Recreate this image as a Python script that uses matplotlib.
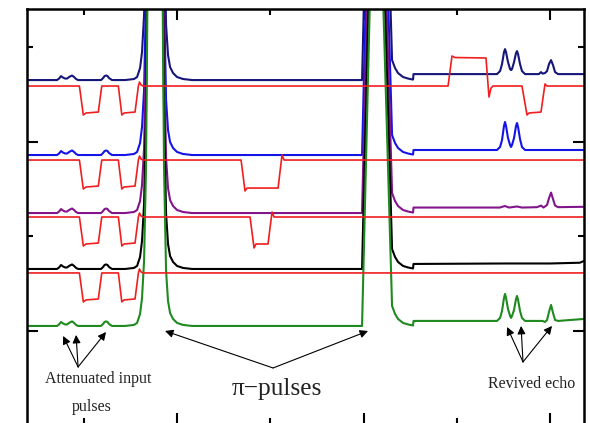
import matplotlib
matplotlib.use("Agg")
import matplotlib.pyplot as plt
import numpy as np

# time axis (us) and trace amplitude (arb. units)
t_start, t_end = -6.12, 53.65

# weak input pulses, common to all five probe traces
t_input = [-2.90, -2.68, -2.47, -2.25, -2.04, -1.82, -1.61, -1.29, -1.07, -0.86, -0.64,
           1.82, 2.04, 2.20, 2.36, 2.52, 2.68, 3.00]
a_input = [0, 0.16, 0.42, 0.26, 0.16, 0.16, 0.32, 0.48, 0.32, 0.11, 0,
           0, 0.21, 0.42, 0.48, 0.42, 0.21, 0]

# first pi pulse (saturates far above the frame)
t_pi1 = [4.40, 5.36, 5.69, 6.01, 6.22, 6.44, 6.65, 6.87, 7.08, 7.62,
         8.15, 8.37, 8.58, 8.80, 9.01, 9.23, 9.55, 9.98, 10.62, 11.59]
a_pi1 = [0, 0.11, 0.32, 1.27, 2.96, 6.87, 16.9, 42.3, 95, 127,
         95, 42.3, 16.9, 5.81, 2.64, 1.37, 0.74, 0.32, 0.11, 0]

# second pi pulse
t_pi2 = [29.83, 31.12, 31.55, 33.05, 33.37, 33.69, 34.23, 34.76, 35.30]
a_pi2 = [0, 52.8, 52.8, 2.11, 1.27, 0.74, 0.32, 0.16, 0.05]

# echo region, one per probe trace (includes the baseline step)
t_echo_navy = [35.35, 44.31, 44.64, 44.85, 45.06, 45.17, 45.28, 45.49, 45.71, 45.82, 45.92,
               46.14, 46.35, 46.46, 46.57, 46.78, 46.99, 47.32, 48.8, 49.03, 49.2, 49.46,
               49.68, 49.89, 50.11, 50.32, 50.54, 50.86, 53.65]
a_echo_navy = [0.63, 0.63, 0.95, 1.69, 2.95, 3.27, 2.95, 1.90, 1.16, 1.05, 1.16,
               1.90, 2.85, 3.06, 2.74, 1.69, 0.95, 0.63, 0.63, 0.84, 0.68, 0.74,
               0.95, 1.69, 2.11, 1.58, 0.84, 0.63, 0.63]
t_echo_blue = [35.35, 44.31, 44.64, 44.85, 45.06, 45.17, 45.28, 45.49, 45.71, 45.82, 45.92,
               46.14, 46.35, 46.46, 46.57, 46.78, 46.99, 47.32, 53.65]
a_echo_blue = [0.53, 0.53, 0.85, 1.59, 3.07, 3.49, 3.07, 1.80, 1.06, 0.85, 1.06,
               1.80, 3.07, 3.38, 2.96, 1.69, 0.85, 0.53, 0.53]
t_echo_purple = [35.35, 44.6, 45.17, 45.6, 46.46, 47.0, 48.6, 49.03, 49.3, 49.68,
                 49.89, 50.11, 50.32, 50.54, 50.86, 53.65]
a_echo_purple = [0.58, 0.58, 0.74, 0.58, 0.69, 0.58, 0.62, 0.79, 0.58, 0.85,
                 1.58, 2.16, 1.48, 0.79, 0.62, 0.66]
t_echo_black = [35.35, 45.0, 50.0, 53.2, 53.65]
a_echo_black = [0.53, 0.58, 0.58, 0.66, 0.85]
t_echo_green = [35.35, 44.31, 44.64, 44.85, 45.06, 45.17, 45.28, 45.49, 45.71, 45.82, 45.92,
                46.14, 46.35, 46.46, 46.57, 46.78, 46.99, 47.32, 49.2, 49.46, 49.68,
                49.89, 50.11, 50.32, 50.54, 50.86, 53.65]
a_echo_green = [0.53, 0.53, 0.85, 1.59, 2.96, 3.38, 2.96, 1.80, 1.06, 0.85, 1.06,
                1.69, 2.85, 3.17, 2.75, 1.59, 0.85, 0.53, 0.53, 0.42, 0.63,
                1.48, 2.22, 1.38, 0.63, 0.53, 0.74]

probe_offsets = [26.51, 18.59, 12.46, 6.55, 0.53]
probe_colors = ["#16167a", "#1414e6", "#82148c", "#000000", "#1f8a1f"]
probe_echo_t = [t_echo_navy, t_echo_blue, t_echo_purple, t_echo_black, t_echo_green]
probe_echo_a = [a_echo_navy, a_echo_blue, a_echo_purple, a_echo_black, a_echo_green]

# control (red) traces: two write dips common to all
t_dip = [-0.50, -0.08, 0.21, 1.53, 1.90, 3.68, 4.05, 4.29, 5.47, 5.83, 5.95, 6.12, 6.33]
a_dip = [0, -3.06, -2.85, -2.75, 0, 0, -3.06, -2.85, -2.75, 0, 0.42, 0.10, 0]

t_ctrl1 = [39.06, 39.48, 39.81, 43.13, 43.45, 43.67, 43.88, 46.99, 47.53, 47.75, 49.03, 49.46, 49.68]
a_ctrl1 = [0, 3.17, 3.01, 2.96, -1.16, -0.21, 0, 0, -3.06, -2.85, -2.75, 0.21, 0]
t_ctrl2 = [16.85, 17.27, 17.49, 20.82, 21.24, 21.46]
a_ctrl2 = [0, -3.27, -2.96, -2.96, 0.53, 0]
t_ctrl3 = [17.81, 18.24, 18.45, 19.74, 20.17, 20.39]
a_ctrl3 = [0, -3.27, -2.85, -2.85, 0.53, 0]
t_ctrl4 = []
a_ctrl4 = []

ctrl_offsets = [25.88, 18.06, 12.04, 6.13]
ctrl_t = [t_ctrl1, t_ctrl2, t_ctrl3, t_ctrl4]
ctrl_a = [a_ctrl1, a_ctrl2, a_ctrl3, a_ctrl4]

fig = plt.figure(figsize=(5.9, 4.23), dpi=100)
ax = fig.add_axes([0.0458, -0.0035, 0.9441, 0.9834])

for off, col, te, ae in zip(probe_offsets, probe_colors, probe_echo_t, probe_echo_a):
    t = [t_start] + t_input + t_pi1 + t_pi2 + te
    a = [0] + a_input + a_pi1 + a_pi2 + ae
    ax.plot(t, off + np.array(a), color=col, lw=1.5, solid_joinstyle="round")

for off, te, ae in zip(ctrl_offsets, ctrl_t, ctrl_a):
    t = [t_start] + t_dip + te + [t_end]
    a = [0] + a_dip + ae + [0]
    ax.plot(t, off + np.array(a), color="#f01e1e", lw=1.2)

ax.set_xlim(t_start, t_end)
ax.set_ylim(-9.88, 34.07)
ax.set_xticks([10, 30, 50])
ax.set_xticks([0, 20, 40], minor=True)
ax.set_yticks([0, 20])
ax.set_yticks([10, 30], minor=True)
ax.tick_params(which="both", direction="in", top=True, right=True,
               labelbottom=False, labelleft=False, width=1.5, color="black")
ax.tick_params(which="major", length=8)
ax.tick_params(which="minor", length=4.5)
for sp in ax.spines.values():
    sp.set_linewidth(1.8)

serif = "Liberation Serif"
arrow_kw = dict(arrowstyle="-|>", color="black", lw=0.8, mutation_scale=12, shrinkA=0, shrinkB=0)

# attenuated input pulses
for tip in [(-2.25, -0.53), (-0.86, -0.42), (2.36, -0.11)]:
    ax.annotate("", xy=tip, xytext=(-0.64, -3.80), arrowprops=arrow_kw)
ax.text(1.50, -5.55, "Attenuated input", family=serif, fontsize=11.5,
        ha="center", va="baseline", color="#222222")
ax.text(0.86, -8.45, "pulses", family=serif, fontsize=11.5,
        ha="center", va="baseline", color="#222222")

# pi pulses
for tip in [(8.69, 0.0), (30.47, 0.0)]:
    ax.annotate("", xy=tip, xytext=(20.28, -3.91), arrowprops=arrow_kw)
ax.text(20.71, -6.76, "\u03c0\u2212pulses", family=serif, fontsize=18.3,
        ha="center", va="baseline", color="#222222")

# revived echo
for tip in [(45.39, 0.42), (46.89, 0.53), (50.21, 0.53)]:
    ax.annotate("", xy=tip, xytext=(47.10, -3.27), arrowprops=arrow_kw)
ax.text(48.07, -5.98, "Revived echo", family=serif, fontsize=11.5,
        ha="center", va="baseline", color="#222222")

fig.savefig("out.png", dpi=100)
